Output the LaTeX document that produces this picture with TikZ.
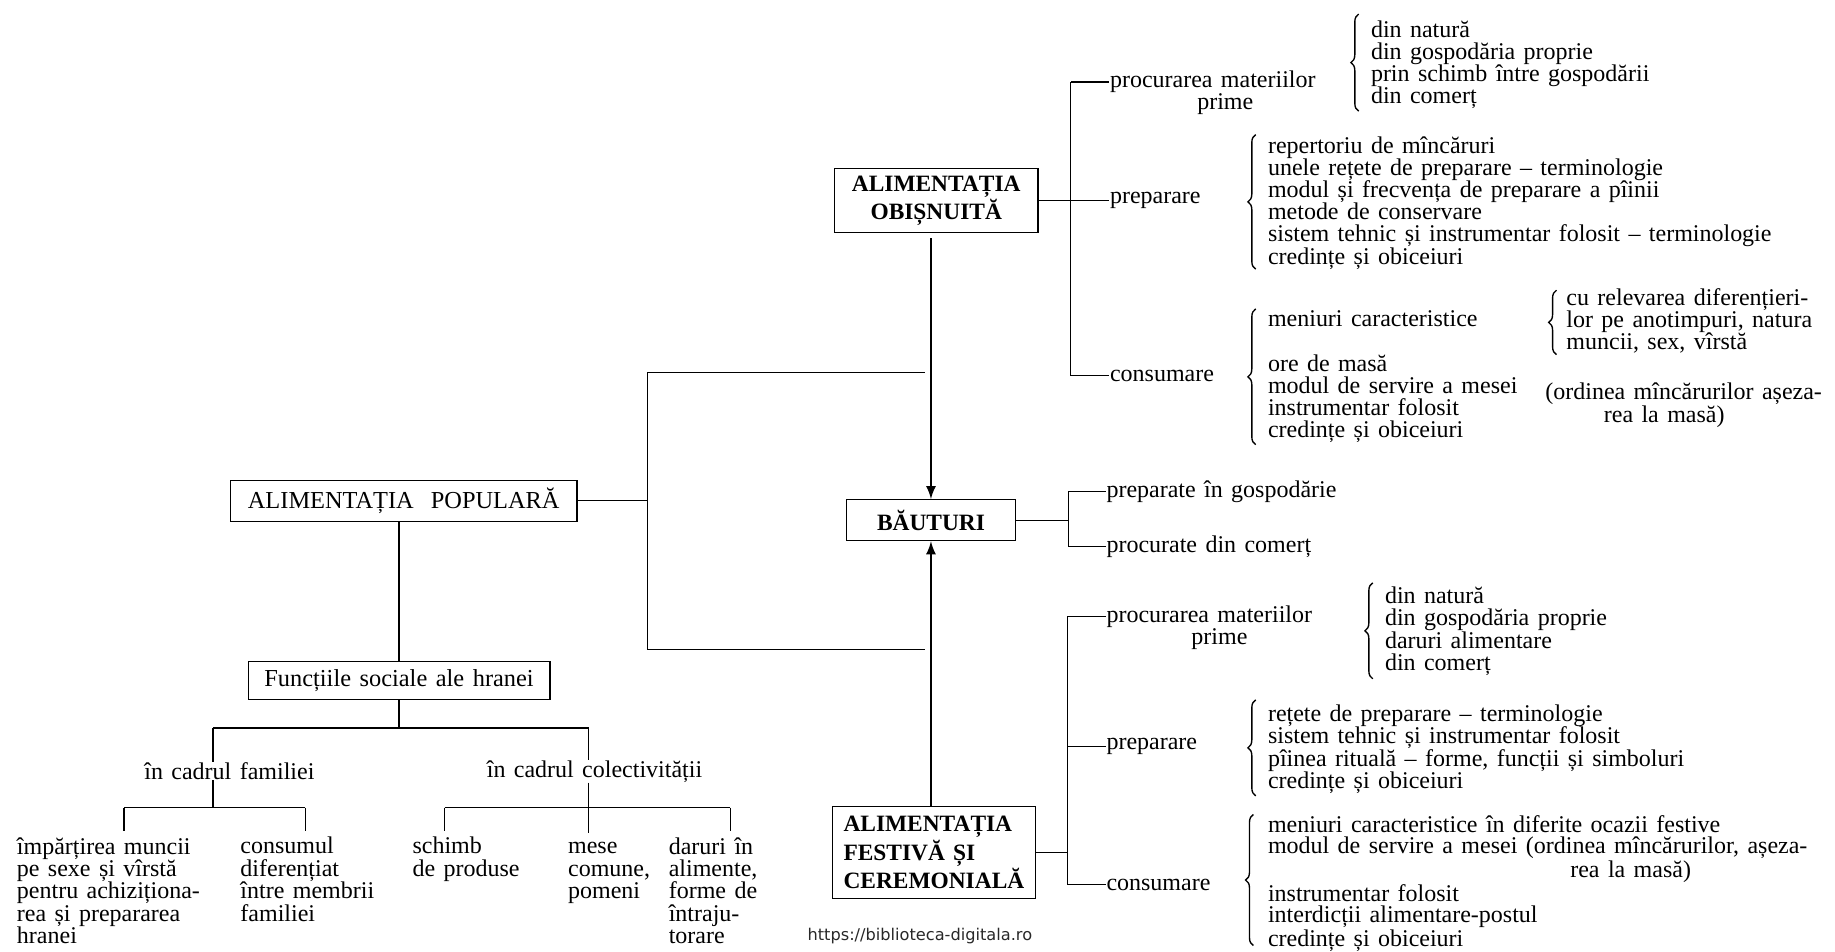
\documentclass[tikz,border=0pt]{standalone}
\usepackage{fontspec}
\setmainfont{Liberation Serif}[WordSpace=1.4]
\newfontfamily\sitefont{DejaVu Sans}
\usepackage{tikz}
\usetikzlibrary{positioning,decorations.pathreplacing,arrows,calc}
\definecolor{InkGray}{RGB}{40,40,40}
\newcommand{\txtsize}{\fontsize{12.3}{11.4}\selectfont}
\newcommand{\lowsize}{\fontsize{12.3}{11.5}\selectfont}
\newcommand{\lastsize}{\fontsize{12.3}{11.0}\selectfont}

\begin{document}
\begin{tikzpicture}[x=0.6pt,y=-0.6pt,line width=0.6pt,
	box/.style={rectangle,draw,inner sep=0pt,align=center,font=\fontsize{12.5}{14}\selectfont},
	bbox/.style={box,font=\bfseries\fontsize{12}{14.7}\selectfont},
	lbl/.style={anchor=west,inner sep=0pt,font=\txtsize},
	lst/.style={anchor=north west,inner sep=0pt,align=left,font=\txtsize},
	lowlst/.style={lst,font=\lowsize},
	brc/.style={decorate,decoration={brace,amplitude=4pt},line width=0.7pt},
	arr/.style={-latex,line width=1.3pt}]
			\useasboundingbox (0,0) rectangle (1568,813);
			\node [box, minimum width=177.6pt, minimum height=21pt, name = pop] at (345,428) {ALIMENTAȚIA\ \ POPULARĂ};
			\node [box, minimum width=154.8pt, minimum height=19.8pt, name = fun] at (341,581.5) {Funcțiile sociale ale hranei};
			\node [bbox, minimum width=104.4pt, minimum height=33pt, name = obi] at (800,171.5) {ALIMENTAȚIA\\OBIȘNUITĂ};
			\node [bbox, minimum width=87pt, minimum height=21pt, name = bau] at (795.5,444.5) {BĂUTURI};
			\node [bbox, align=left, minimum width=104.4pt, minimum height=47.4pt, name = fes] at (798,728.5) {ALIMENTAȚIA\\FESTIVĂ ȘI\\CEREMONIALĂ};
			\node [lbl, name = op] at (948,70) {procurarea materiilor};
			\node [lbl, anchor=center, name = op2] at (1047,89) {prime};
			\node [lbl, name = or] at (948,171.5) {preparare};
			\node [lbl, name = oc] at (948,321) {consumare};
			\node [lst, name = ol1] at (1171,17) {din natură\\din gospodăria proprie\\prin schimb între gospodării\\din comerț};
			\node [lst, name = ol2] at (1083,116) {repertoriu de mîncăruri\\unele rețete de preparare – terminologie\\modul și frecvența de preparare a pîinii\\metode de conservare\\sistem tehnic și instrumentar folosit – terminologie\\credințe și obiceiuri};
			\node [lst, name = ol3] at (1083,265) {meniuri caracteristice\\[11.4pt]ore de masă\\modul de servire a mesei\\instrumentar folosit\\credințe și obiceiuri};
			\node [lst, name = os] at (1338,246) {cu relevarea diferențieri-\\lor pe anotimpuri, natura\\muncii, sex, vîrstă};
			\node [lst, name = oo] at (1320,327) {(ordinea mîncărurilor așeza-\\\hspace*{30pt}rea la masă)};
			\node [lbl, name = bp] at (945,420) {preparate în gospodărie};
			\node [lbl, name = bc] at (945,467) {procurate din comerț};
			\node [lbl, name = fp] at (945,527) {procurarea materiilor};
			\node [lbl, anchor=center, name = fp2] at (1042,546) {prime};
			\node [lbl, name = fr] at (945,638) {preparare};
			\node [lbl, name = fc] at (945,756) {consumare};
			\node [lst, name = fl1] at (1183,501) {din natură\\din gospodăria proprie\\daruri alimentare\\din comerț};
			\node [lst, name = fl2] at (1083,602) {rețete de preparare – terminologie\\sistem tehnic și instrumentar folosit\\pîinea rituală – forme, funcții și simboluri\\credințe și obiceiuri};
			\node [lst, font=\lastsize, name = fl3] at (1083,696) {meniuri caracteristice în diferite ocazii festive\\modul de servire a mesei (ordinea mîncărurilor, așeza-\\\hspace*{155pt}rea la masă)\\instrumentar folosit\\interdicții alimentare-postul\\credințe și obiceiuri};
			\node [lbl, anchor=center, name = fam] at (196,659) {în cadrul familiei};
			\node [lbl, anchor=center, name = col] at (508,659) {în cadrul colectivității};
			\node [lowlst, name = b1] at (14,715) {împărțirea muncii\\pe sexe și vîrstă\\pentru achiziționa-\\rea și prepararea\\hranei};
			\node [lowlst, name = b2] at (205,715) {consumul\\diferențiat\\între membrii\\familiei};
			\node [lowlst, name = b3] at (352,715) {schimb\\de produse};
			\node [lowlst, name = b4] at (485,715) {\vphantom{d}mese\\comune,\\pomeni};
			\node [lowlst, name = b5] at (571,715) {daruri în\\alimente,\\forme de\\întraju-\\torare};
			\node [font=\sitefont\fontsize{8.3}{10}\selectfont, text=InkGray, inner sep=0pt, name = wm] at (786,800) {https://biblioteca-digitala.ro};
			\coordinate (pa) at (553,318);
			\coordinate (pc) at (553,555);
			\coordinate (pt) at (790,318);
			\coordinate (pb) at (790,555);
			\draw (pop.east) -- (pop.east -| pa);
			\draw (pt) -- (pa) -- (pc) -- (pb);
			\draw (fun.north) -- (fun.north |- pop.south);
			\coordinate (fa) at (182,622);
			\coordinate (fb) at (503,622);
			\coordinate (f1) at (106,690);
			\coordinate (f2) at (261,690);
			\coordinate (c1) at (380,690);
			\coordinate (c3) at (624,690);
			\draw (fun.south) -- (fun.south |- fa);
			\draw (fa) -- (fb);
			\draw (fa) -- (fa |- fam.north);
			\draw (fb) -- (fb |- col.north);
			\draw (fa |- fam.south) -- (fa |- f1);
			\draw (fb |- col.south) -- (fb |- c1) -- ++(0,22);
			\draw (f1) -- (f2);
			\draw (c1) -- (c3);
			\draw (f1) -- ++(0,20);
			\draw (f2) -- ++(0,20);
			\draw (c1) -- ++(0,20);
			\draw (c3) -- ++(0,20);
			\coordinate (oj1) at (915,70);
			\coordinate (oj3) at (915,321);
			\draw (oj1) -- (oj3);
			\draw (oj1) -- (op.west);
			\draw (oj3) -- (oc.west);
			\draw (obi.east) -- (or.west);
			\coordinate (bj1) at (913,420);
			\coordinate (bj2) at (913,467);
			\draw (bj1) -- (bj2);
			\draw (bau.east) -- (bau.east -| bj1);
			\draw (bj1) -- (bp.west);
			\draw (bj2) -- (bc.west);
			\coordinate (fj1) at (912,527);
			\coordinate (fj3) at (912,756);
			\draw (fj1) -- (fj3);
			\draw (fes.east) -- (fes.east -| fj1);
			\draw (fj1) -- (fp.west);
			\draw (fr.west -| fj1) -- (fr.west);
			\draw (fj3) -- (fc.west);
			\draw [arr, shorten <=2.4pt] (bau.north |- obi.south) -- (bau.north);
			\draw [arr] (bau.south |- fes.north) -- (bau.south);
			\draw [brc] (1161,95) -- (1161,12);
			\draw [brc] (1073,230) -- (1073,115);
			\draw [brc] (1073,380) -- (1073,264);
			\draw [brc] (1330,303) -- (1330,248);
			\draw [brc] (1173,580) -- (1173,498);
			\draw [brc] (1073,680) -- (1073,598);
			\draw [brc] (1071,808) -- (1071,696);
		\end{tikzpicture}
\end{document}
